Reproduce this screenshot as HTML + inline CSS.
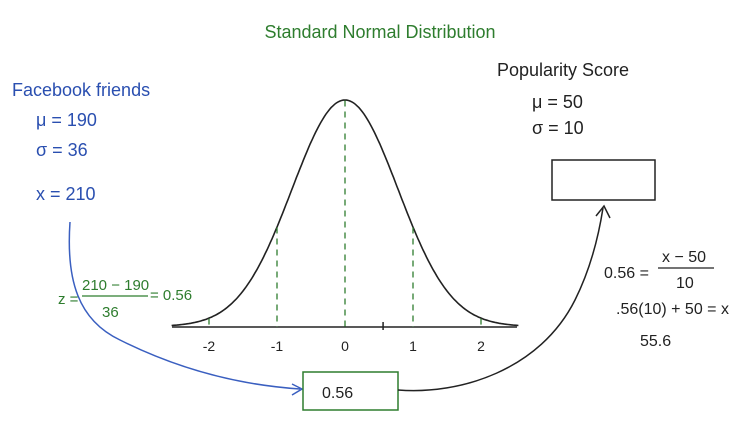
<!DOCTYPE html>
<html><head><meta charset="utf-8">
<style>
html,body{margin:0;padding:0;background:#fff;}
svg{display:block;}
text{font-family:"Liberation Sans",sans-serif;}
</style></head>
<body>
<svg width="754" height="421" viewBox="0 0 754 421">
<rect width="754" height="421" fill="#fff"/>
<text x="380" y="38" text-anchor="middle" font-size="18" fill="#2e7d2e">Standard Normal Distribution</text>
<g id="chart"></g>

<g fill="#2a4fb0" font-size="18">
<text x="12" y="96">Facebook friends</text>
<text x="36" y="126">μ = 190</text>
<text x="36" y="156">σ = 36</text>
<text x="36" y="200">x = 210</text>
</g>
<path d="M70 222 C66 280,78 320,120 340 C180 370,240 385,300 389" fill="none" stroke="#3a5fc0" stroke-width="1.5"/>
<path d="M292 384 L302 389 L292 395" fill="none" stroke="#3a5fc0" stroke-width="1.5"/>

<g fill="#2e7d2e" font-size="15">
<text x="58" y="304">z =</text>
<text x="82" y="290">210 − 190</text>
<line x1="82" y1="296" x2="148" y2="296" stroke="#2e7d2e" stroke-width="1.3"/>
<text x="102" y="317">36</text>
<text x="150" y="300">= 0.56</text>
</g>

<rect x="303" y="372" width="95" height="38" fill="none" stroke="#2e7d2e" stroke-width="1.5"/>
<text x="322" y="398" font-size="16" fill="#222">0.56</text>
<path d="M398 390 C460 395,540 370,575 300 C590 270,598 240,603 208" fill="none" stroke="#222" stroke-width="1.5"/>
<path d="M596 216 L604 206 L610 218" fill="none" stroke="#222" stroke-width="1.5"/>

<g fill="#222" font-size="18">
<text x="497" y="76">Popularity Score</text>
<text x="532" y="108">μ = 50</text>
<text x="532" y="134">σ = 10</text>
</g>
<rect x="552" y="160" width="103" height="40" fill="none" stroke="#222" stroke-width="1.5"/>

<g fill="#222" font-size="16">
<text x="604" y="278">0.56 =</text>
<text x="662" y="262">x − 50</text>
<line x1="658" y1="268" x2="714" y2="268" stroke="#222" stroke-width="1.3"/>
<text x="676" y="288">10</text>
<text x="616" y="314">.56(10) + 50 = x</text>
<text x="640" y="346">55.6</text>
</g>

<script>
const zTicks = [-2, -1, 0, 1, 2];
const tickLabels = ["-2", "-1", "0", "1", "2"];
const dashedAt = [-2, -1, 0, 1, 2];
const zMin = -2.55, zMax = 2.55;
const peakHeight = 230;
const ns = "http://www.w3.org/2000/svg";
const g = document.getElementById("chart");
const cx = 345, unit = 68, curveSigma = 53, baseY = 327;
function xs(z){ return cx + z*unit; }
function pdf(z){ const u = z*unit/curveSigma; return Math.exp(-u*u/2); }
function ys(v){ return baseY - v*peakHeight; }
function mk(tag, attrs){ const e=document.createElementNS(ns,tag); for(const k in attrs) e.setAttribute(k,attrs[k]); g.appendChild(e); return e; }
const axis = mk("line",{x1:172,y1:baseY,x2:517,y2:baseY,stroke:"#222","stroke-width":1.6});


let d="";
for(let i=0;i<=200;i++){ const z=zMin+(zMax-zMin)*i/200; d+=(i?"L":"M")+xs(z).toFixed(1)+" "+ys(pdf(z)*0.985+0.002).toFixed(1); }
const curve = mk("path",{d:d,fill:"none",stroke:"#222","stroke-width":1.6});


dashedAt.forEach(z=>{
  const l = mk("line",{x1:xs(z),y1:ys(pdf(z)*0.985),x2:xs(z),y2:baseY,stroke:"#2e7d2e","stroke-width":1.3,"stroke-dasharray":"6 5"});
  
  
});
zTicks.forEach((z,i)=>{
  const t = mk("text",{x:xs(z),y:351,"text-anchor":"middle","font-size":14,fill:"#222"});
  t.textContent = tickLabels[i];
  
  
});
const zm = mk("line",{x1:xs(0.56),y1:baseY-5,x2:xs(0.56),y2:baseY+3,stroke:"#222","stroke-width":1.5});


</script>
</svg>
</body></html>
